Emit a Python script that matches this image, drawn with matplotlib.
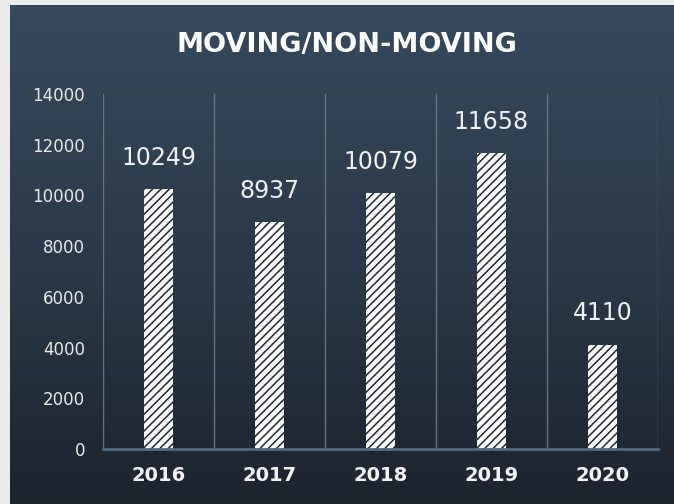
import numpy as np
import matplotlib
matplotlib.use("Agg")
import matplotlib.pyplot as plt
from matplotlib.colors import LinearSegmentedColormap

# ---- data ----
years = ["2016", "2017", "2018", "2019", "2020"]
values = [10249, 8937, 10079, 11658, 4110]
yticks = [0, 2000, 4000, 6000, 8000, 10000, 12000, 14000]
title = "MOVING/NON-MOVING"

W, H = 674, 504
fig = plt.figure(figsize=(W / 100, H / 100), dpi=100, facecolor="#ebebeb")

# gradient panel background
bg = fig.add_axes([10 / W, 0, (W - 10) / W, (H - 5) / H], zorder=0)
cmap = LinearSegmentedColormap.from_list("g", ["#36495d", "#2b3a4a", "#1c242e"])
grad = np.linspace(0, 1, 256).reshape(-1, 1)
bg.imshow(grad, aspect="auto", cmap=cmap, extent=[0, 1, 0, 1])
bg.set_axis_off()

plt.rcParams["hatch.linewidth"] = 1.1

ax = fig.add_axes([103 / W, (H - 449) / H, (658 - 103) / W, (449 - 94) / H], zorder=1)
ax.set_facecolor("none")
x = np.arange(len(years))
bars = ax.bar(x, values, width=0.27, color="white", edgecolor="#1e2833",
              linewidth=0, hatch="////", zorder=3)

ax.set_xlim(-0.5, len(years) - 0.5)
ax.set_ylim(0, 14000)
for b in np.arange(-0.5, len(years), 1.0):
    ax.axvline(b, color="#66737f", lw=1.0, zorder=1)

for xi, v in zip(x, values):
    ax.annotate(f"{v}", (xi, v), xytext=(0, 14), textcoords="offset points",
                ha="center", va="bottom", color="#f0f0f0", fontsize=17)

ax.set_yticks(yticks)
ax.set_yticklabels([str(t) for t in yticks])
ax.set_xticks(x)
ax.set_xticklabels(years)
ax.tick_params(axis="y", length=0, pad=13, labelcolor="#e8e8e8", labelsize=12)
ax.tick_params(axis="x", length=0, pad=12, labelcolor="#f2f2f2", labelsize=14)
for lab in ax.get_xticklabels():
    lab.set_fontweight("bold")

for s in ["top", "right", "left"]:
    ax.spines[s].set_visible(False)
ax.spines["bottom"].set_color("#4f6b89")
ax.spines["bottom"].set_linewidth(2)
ax.spines["bottom"].set_zorder(4)

fig.text(347 / W, 1 - 45 / H, title, ha="center", va="center",
         color="white", fontsize=19.5, fontweight="bold")

fig.savefig("out.png", dpi=100, facecolor=fig.get_facecolor())
